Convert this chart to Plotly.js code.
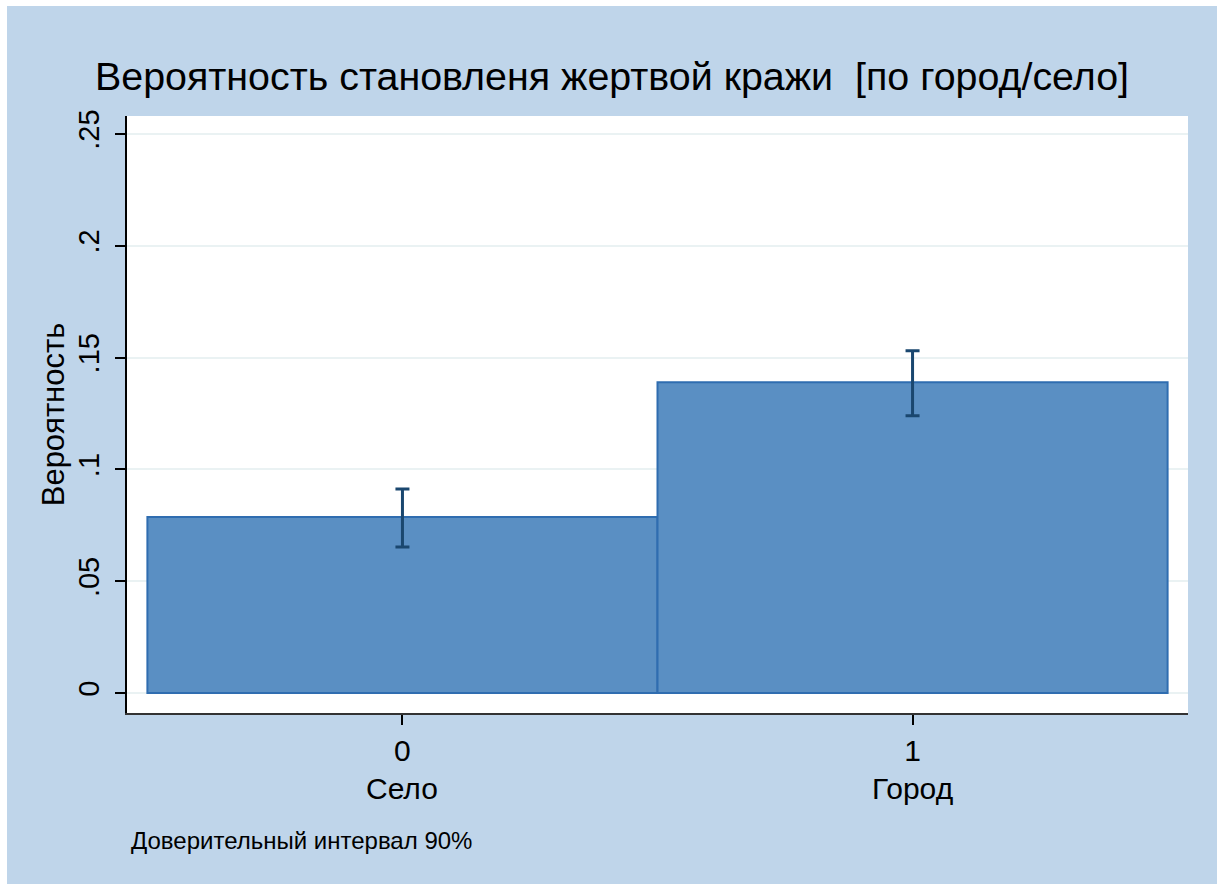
<!DOCTYPE html>
<html>
<head>
<meta charset="utf-8">
<script src="https://cdn.plot.ly/plotly-3.0.1.min.js"></script>
<style>
html,body{margin:0;padding:0;background:#ffffff;}
#chart{position:absolute;left:7px;top:6px;width:1210px;height:878px;}
</style>
</head>
<body>
<div id="chart"></div>
<script>
// Data
const xCodes = [0, 1];
const categories = ["Село", "Город"];
const probability = [0.0787, 0.139];
const ciUpper = [0.0912, 0.153];
const ciLower = [0.0653, 0.124];
const yTickVals = [0, 0.05, 0.1, 0.15, 0.2, 0.25];
const yTickText = ["0", ".05", ".1", ".15", ".2", ".25"];
const xTickText = ["0", "1"];

const FONT = "Liberation Sans, Arial, sans-serif";

const trace = {
  type: "bar",
  x: xCodes,
  y: probability,
  width: 1,
  marker: {color: "#5a8fc3", line: {color: "#2f6db0", width: 2}},
  error_y: {
    type: "data",
    symmetric: false,
    array: probability.map((v, i) => ciUpper[i] - v),
    arrayminus: probability.map((v, i) => v - ciLower[i]),
    color: "#1a476f",
    thickness: 3,
    width: 7
  },
  hoverinfo: "skip"
};

const annotations = xCodes.map((x, i) => ({
  x: x, xref: "x", y: -0.127, yref: "paper",
  text: categories[i], showarrow: false,
  font: {family: FONT, size: 30, color: "#000"}, xanchor: "center", yanchor: "middle"
}));
annotations.push({
  x: 0, xref: "paper", xshift: 2, y: -0.214, yref: "paper",
  text: "Доверительный интервал 90%", showarrow: false,
  font: {family: FONT, size: 24, color: "#000"}, xanchor: "left", yanchor: "middle"
});

const layout = {
  width: 1210, height: 878,
  paper_bgcolor: "#bfd5ea",
  plot_bgcolor: "#ffffff",
  margin: {l: 120, r: 29, t: 110, b: 171},
  showlegend: false,
  bargap: 0,
  title: {
    text: "Вероятность становленя жертвой кражи  [по город/село]",
    font: {family: FONT, size: 39.4, color: "#000"},
    x: 0.5, xref: "container", xanchor: "center",
    y: 0.92, yref: "container", yanchor: "middle"
  },
  xaxis: {
    range: [-0.54, 1.54],
    tickvals: xCodes, ticktext: xTickText,
    ticks: "outside", ticklen: 10, tickwidth: 2, tickcolor: "#000",
    showgrid: false, zeroline: false,
    showline: true, linecolor: "#333", linewidth: 2,
    tickfont: {family: FONT, size: 30, color: "#000"},
    ticklabelstandoff: 0
  },
  yaxis: {
    range: [-0.0089, 0.258],
    tickvals: yTickVals, ticktext: yTickText,
    tickangle: -90,
    ticks: "outside", ticklen: 10, tickwidth: 2, tickcolor: "#000",
    showgrid: true, gridcolor: "#eaf2f3", gridwidth: 2,
    zeroline: false,
    showline: true, linecolor: "#000", linewidth: 2,
    tickfont: {family: FONT, size: 29, color: "#000"},
    ticklabelstandoff: 4,
    title: {text: "Вероятность", font: {family: FONT, size: 31, color: "#000"}, standoff: 0}
  },
  annotations: annotations
};

Plotly.newPlot("chart", [trace], layout, {displayModeBar: false, staticPlot: true});
</script>
</body>
</html>
